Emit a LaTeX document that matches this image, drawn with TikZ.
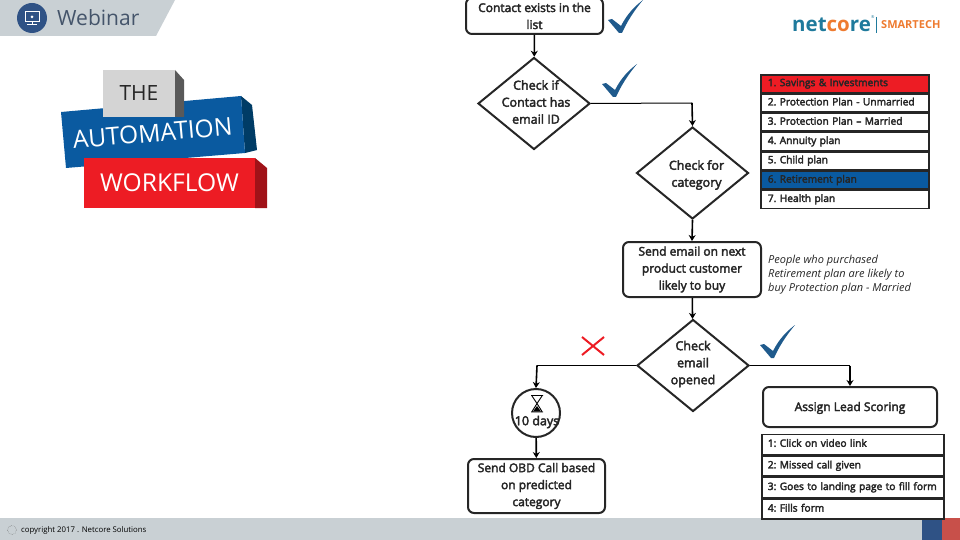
\documentclass[tikz,border=0pt]{standalone}
\usepackage{fontspec}
\setmainfont{Open Sans}
\newfontfamily\heavyfont[FakeBold=3]{Open Sans}
\usetikzlibrary{arrows.meta,positioning,shapes.geometric}
\definecolor{ink}{HTML}{262626}
\definecolor{barc}{HTML}{C9D0D4}
\definecolor{navy}{HTML}{2F5285}
\definecolor{slate}{HTML}{44546A}
\definecolor{tick}{HTML}{1F5A8C}
\definecolor{redc}{HTML}{ED1C24}
\definecolor{reddk}{HTML}{A01218}
\definecolor{bluec}{HTML}{0A5AA0}
\definecolor{bluedk}{HTML}{003C66}
\definecolor{greyc}{HTML}{D4D4D4}
\definecolor{greydk}{HTML}{595959}
\definecolor{teal}{HTML}{1F7A9C}
\definecolor{orangec}{HTML}{EE7B30}
\definecolor{squarer}{HTML}{C8504A}
\tikzset{
  box/.style={draw=ink,fill=white,rounded corners=6pt,line width=2pt,align=center,
    font=\fontsize{12}{17}\selectfont\heavyfont,text=ink,inner sep=0pt},
  drop/.style={execute at begin node=\rule{0pt}{#1}},
  dec/.style={diamond,draw=ink,fill=white,line width=2pt,inner sep=0pt,
    minimum width=112pt,minimum height=92pt,aspect=1.2},
  lbl/.style={font=\fontsize{12.5}{17}\selectfont\heavyfont,text=ink,align=center},
  row/.style={draw=ink,fill=white,line width=1.6pt,anchor=north west,inner sep=0pt,inner xsep=7pt,
    text=ink,font=\fontsize{10.2}{11}\selectfont\heavyfont\frenchspacing,align=left,
    text width=154pt,minimum height=17.7pt,text height=7.5pt,text depth=2.5pt},
  lrow/.style={row,text width=170pt,inner xsep=6pt,minimum height=20pt},
  flow/.style={-{Stealth[length=6pt,width=7pt]},line width=1.6pt,color=black},
  link/.style={line width=1pt,color=black},
  title/.style={font=\fontsize{24.6}{26}\selectfont,text=white},
  tickmark/.pic={\fill[tick] (-1,0) -- (3,-1) -- (12,6) .. controls (18,-6) and (26,-14) .. (34,-20)
    .. controls (24,-8) and (18,2) .. (13,13) -- (10,13) -- cycle;},
  crossmark/.pic={\draw[redc,line width=2pt] (-11,-9) -- (11,9) (-11,9) -- (11,-9);}
}
\begin{document}
\begin{tikzpicture}[x=1pt,y=-1pt]
  \useasboundingbox (0,0) rectangle (960,540);
  % header and footer
  \fill[barc] (0,0) -- (175,0) -- (156,36) -- (0,36) -- cycle;
  \fill[barc] (0,518) rectangle (960,540);
  \fill[navy] (922,518) rectangle (942,540);
  \fill[squarer] (942,518) rectangle (960,540);
  \node[circle,fill=navy,minimum size=30pt,inner sep=0pt] (icon) at (32,18) {};
  \draw[white,line width=1pt] (25,12) rectangle (39,22) (32,22) -- (32,25) (27,25) -- (37,25);
  \fill[white] (32,17) circle (1.5pt);
  \node[anchor=west,inner sep=0pt,text=slate,font=\fontsize{21}{24}\selectfont] (web) at (57,18) {Webinar};
  \node[anchor=west,inner sep=0pt,text=black,font=\fontsize{7.8}{8}\selectfont] (copy) at (21,530) {copyright 2017 . Netcore Solutions};
  \node[circle,draw=greydk,densely dotted,minimum size=9pt,inner sep=0pt] (copyicon) at (12,530) {};
  % title blocks
  \fill[bluedk] (241,96) -- (252,105) -- (257,150) -- (245,153) -- cycle;
  \fill[bluec] (61,112) -- (241,96) -- (245,153) -- (66,168) -- cycle;
  \node[title,rotate=5] (auto) at (152.5,133) {AUTOMATION};
  \fill[greydk] (175,70) -- (184,80) -- (184,117) -- (175,117) -- cycle;
  \node[fill=greyc,minimum width=72pt,minimum height=47pt,inner sep=0pt,
    text=ink,font=\fontsize{21}{24}\selectfont] (the) at (139,93.5) {THE};
  \fill[reddk] (255,158) -- (267,168) -- (267,208) -- (255,208) -- cycle;
  \node[fill=redc,minimum width=171pt,minimum height=50pt,inner sep=0pt,
    text=white,font=\fontsize{24.6}{26}\selectfont] (work) at (169.5,183) {WORKFLOW};
  % logo
  \node[anchor=west,inner sep=0pt,font=\fontsize{20.5}{22}\selectfont\bfseries,text=teal] (logo) at (792,25)
    {net\textcolor{orangec}{co}re};
  \node[anchor=west,inner sep=0pt,font=\fontsize{4}{4}\selectfont,text=teal] (logor) at (871,17) {®};
  \draw[teal,line width=.6pt] (876,17) -- (876,33);
  \node[anchor=west,inner sep=0pt,font=\fontsize{11}{12}\selectfont\bfseries,text=orangec] (smart) at (881,25) {SMARTECH};
  % flow
  \node[box,drop=11pt,minimum width=137pt,minimum height=36pt] (contact) at (534.5,16) {Contact exists in the\\list};
  \node[dec,label={[lbl,xshift=2pt,yshift=1.5pt]center:Check if\\Contact has\\email ID}] (hasid) at (534,103.5) {};
  \node[dec,label={[lbl,xshift=4pt,yshift=-2pt]center:Check for\\category}] (categ) at (692.5,173) {};
  \node[box,drop=13pt,minimum width=138pt,minimum height=55pt] (send) at (692,269.5) {Send email on next\\product customer\\likely to buy};
  \node[dec,label={[lbl,yshift=1.5pt]center:Check\\email\\opened}] (opened) at (693,365.5) {};
  \node[box,drop=11pt,minimum width=174pt,minimum height=40pt] (assign) at (850,407) {Assign Lead Scoring};
  \node[circle,draw=ink,fill=white,line width=2pt,minimum size=48pt,inner sep=0pt] (wait) at (536,413) {};
  \node[lbl,inner sep=0pt] (days) at (537,422) {10 days};
  \node[box,drop=12pt,minimum width=137pt,minimum height=54pt] (obd) at (536.5,486) {Send OBD Call based\\on predicted\\category};
  \draw[black,line width=.9pt,fill=white] (531,395.5) -- (543,395.5) (531,412) -- (543,412)
    (532,396) -- (537,403.5) -- (532,411.5) (542,396) -- (537,403.5) -- (542,411.5);
  \fill[black] (533,411.5) -- (537,406) -- (541,411.5) -- cycle;
  \coordinate (hasidj) at (692,103);
  \coordinate (yesj) at (850,365.5);
  \coordinate (noj) at (537,365.5);
  \draw[flow] (contact) -- (hasid);
  \draw[link] (hasid.east) -- (hasidj);
  \draw[flow] (hasidj) -- (categ.north);
  \draw[flow] (categ.south) -- (send.north);
  \draw[flow] (send) -- (opened);
  \draw[link] (opened.east) -- (yesj);
  \draw[flow] (yesj) -- (assign.north -| yesj);
  \draw[link] (opened.west) -- (noj);
  \draw[flow] (noj) -- (wait.north);
  \draw[flow] (wait) -- (obd);
  % plan list
  \node[row,fill=redc] (p1) at (760,74) {1. Savings \& Investments};
  \node[row,below=0pt of p1.south west,anchor=north west] (p2) {2. Protection Plan - Unmarried};
  \node[row,below=0pt of p2.south west,anchor=north west] (p3) {3. Protection Plan – Married};
  \node[row,below=0pt of p3.south west,anchor=north west] (p4) {4. Annuity plan};
  \node[row,below=0pt of p4.south west,anchor=north west] (p5) {5. Child plan};
  \node[row,fill=bluec,below=0pt of p5.south west,anchor=north west] (p6) {6. Retirement plan};
  \node[row,below=0pt of p6.south west,anchor=north west] (p7) {7. Health plan};
  \node[anchor=north west,inner sep=0pt,align=left,text=ink,font=\fontsize{11}{14}\selectfont\itshape] (note) at (768,254.5)
    {People who purchased\\Retirement plan are likely to\\buy Protection plan - Married};
  % lead list
  \node[lrow] (s1) at (761,433.5) {1: Click on video link};
  \node[lrow,below=0pt of s1.south west,anchor=north west] (s2) {2: Missed call given};
  \node[lrow,below=0pt of s2.south west,anchor=north west] (s3) {3: Goes to landing page to fill form};
  \node[lrow,below=0pt of s3.south west,anchor=north west] (s4) {4: Fills form};
  % marks
  \pic at (609,20) {tickmark};
  \pic at (603,84) {tickmark};
  \pic at (761,345) {tickmark};
  \pic at (593,346) {crossmark};
\end{tikzpicture}
\end{document}
